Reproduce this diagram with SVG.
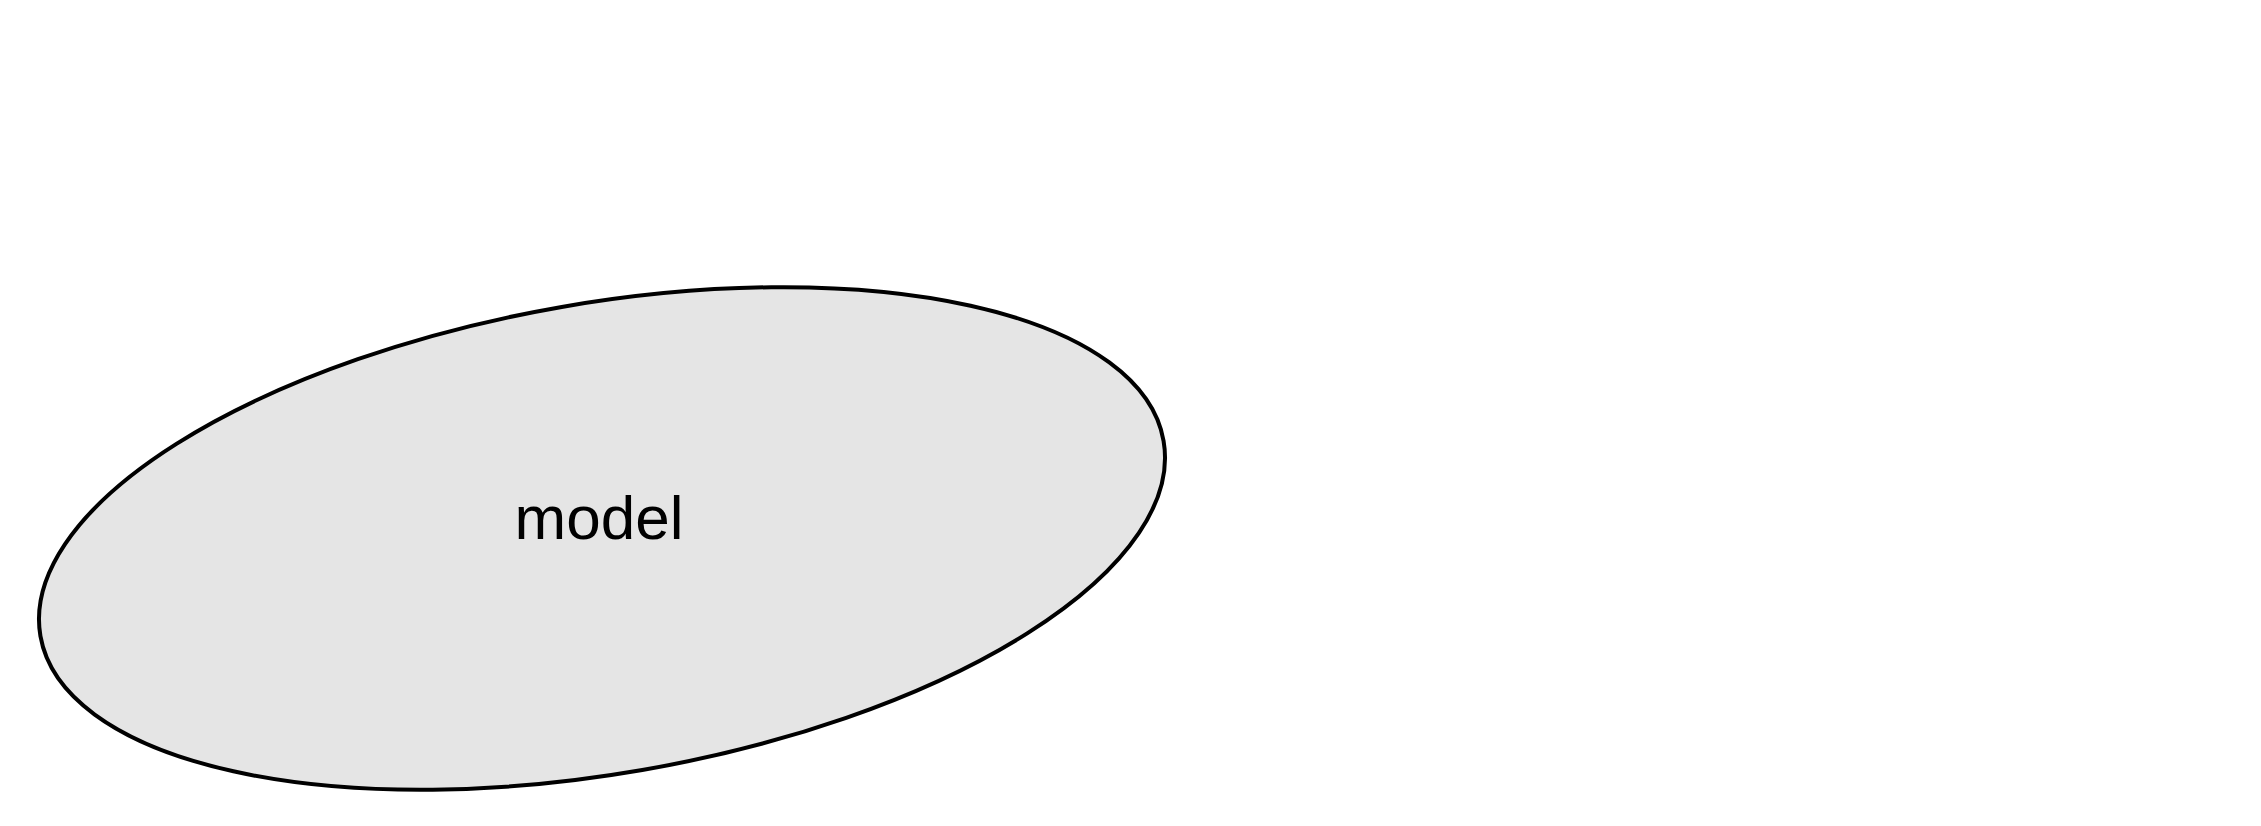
<svg xmlns="http://www.w3.org/2000/svg" width="2261" height="826" viewBox="0 0 2261 826">
<style>
.node-shape{fill:#e5e5e5;stroke:#000;stroke-width:4}
.label{font-family:"Liberation Sans",Arial,sans-serif;font-size:62px;fill:#000;text-anchor:middle}
</style>
<rect width="2261" height="826" fill="#fff"/>
<g id="connectors"></g>
<g id="model">
<ellipse class="node-shape" cx="602" cy="538.5" rx="570" ry="235" transform="rotate(-9.87 602 538.5)"/>
<text class="label" x="599" y="539">model</text>
</g>
</svg>
